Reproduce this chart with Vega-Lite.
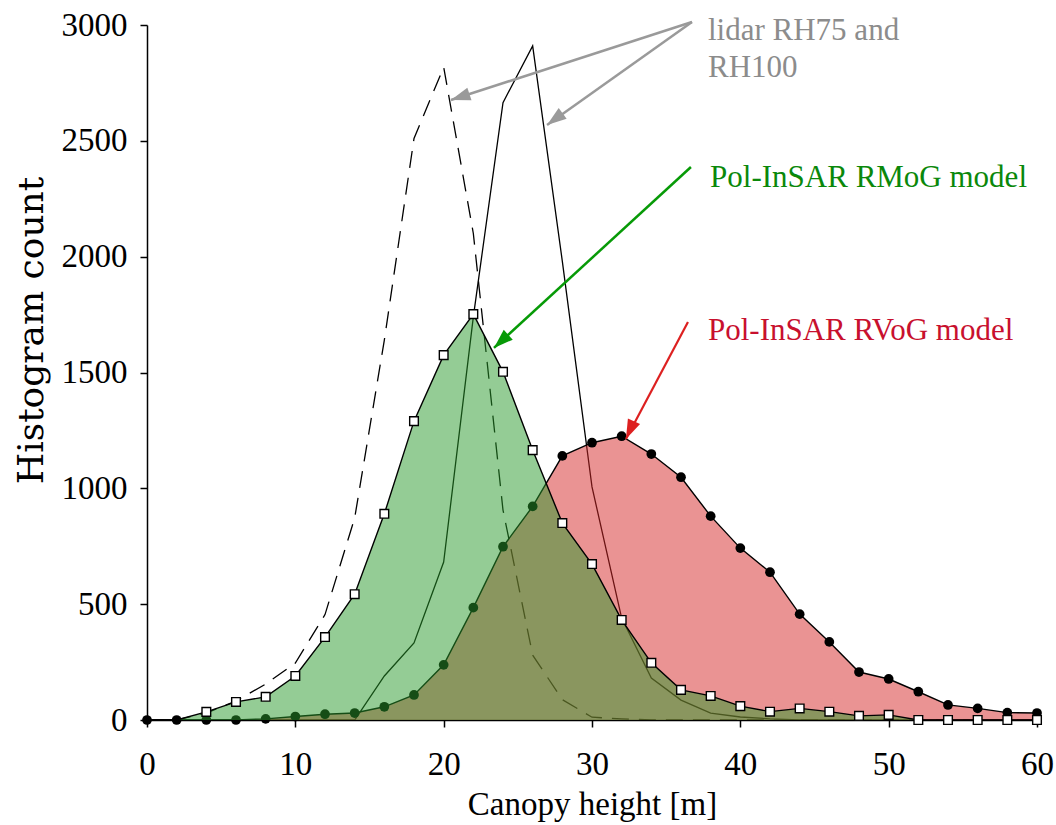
{
  "$schema": "https://vega.github.io/schema/vega-lite/v6.json",
  "width": 890,
  "height": 695,
  "autosize": {"type": "none"},
  "padding": {"left": 147, "top": 25, "right": 19, "bottom": 105},
  "background": "white",
  "config": {
    "view": {"stroke": null},
    "axis": {
      "grid": false,
      "domainColor": "black",
      "domainWidth": 1.5,
      "tickColor": "black",
      "tickWidth": 1.5,
      "tickSize": 7,
      "labelFlush": false,
      "labelFont": "Liberation Serif",
      "labelFontSize": 33,
      "labelColor": "black",
      "titleFont": "Liberation Serif",
      "titleFontSize": 33,
      "titleFontWeight": "normal",
      "titleColor": "black"
    }
  },
  "datasets": {
    "hist": [
      {"h": 0, "rmog": 0, "rvog": 0, "rh75": 0, "rh100": 0},
      {"h": 2, "rmog": 0, "rvog": 0, "rh75": 0, "rh100": 0},
      {"h": 4, "rmog": 35, "rvog": 0, "rh75": 30, "rh100": 0},
      {"h": 6, "rmog": 78, "rvog": 0, "rh75": 82, "rh100": 0},
      {"h": 8, "rmog": 100, "rvog": 5, "rh75": 155, "rh100": 0},
      {"h": 10, "rmog": 190, "rvog": 15, "rh75": 246, "rh100": 0},
      {"h": 12, "rmog": 358, "rvog": 25, "rh75": 455, "rh100": 0},
      {"h": 14, "rmog": 543, "rvog": 30, "rh75": 872, "rh100": 0},
      {"h": 16, "rmog": 890, "rvog": 57, "rh75": 1640, "rh100": 190},
      {"h": 18, "rmog": 1290, "rvog": 108, "rh75": 2510, "rh100": 333},
      {"h": 20, "rmog": 1575, "rvog": 238, "rh75": 2818, "rh100": 682},
      {"h": 22, "rmog": 1752, "rvog": 485, "rh75": 2100, "rh100": 1740},
      {"h": 24, "rmog": 1503, "rvog": 748, "rh75": 906, "rh100": 2665},
      {"h": 26, "rmog": 1165, "rvog": 922, "rh75": 280, "rh100": 2910},
      {"h": 28, "rmog": 850, "rvog": 1140, "rh75": 88, "rh100": 1980},
      {"h": 30, "rmog": 673, "rvog": 1197, "rh75": 12, "rh100": 1006},
      {"h": 32, "rmog": 432, "rvog": 1225, "rh75": 5, "rh100": 440},
      {"h": 34, "rmog": 247, "rvog": 1148, "rh75": 0, "rh100": 181},
      {"h": 36, "rmog": 130, "rvog": 1048, "rh75": 0, "rh100": 86},
      {"h": 38, "rmog": 104, "rvog": 880, "rh75": 0, "rh100": 30},
      {"h": 40, "rmog": 60, "rvog": 742, "rh75": 0, "rh100": 13},
      {"h": 42, "rmog": 36, "rvog": 638, "rh75": 0, "rh100": 5},
      {"h": 44, "rmog": 50, "rvog": 457, "rh75": 0, "rh100": 0},
      {"h": 46, "rmog": 36, "rvog": 337, "rh75": 0, "rh100": 0},
      {"h": 48, "rmog": 18, "rvog": 207, "rh75": 0, "rh100": 0},
      {"h": 50, "rmog": 22, "rvog": 177, "rh75": 0, "rh100": 0},
      {"h": 52, "rmog": 0, "rvog": 122, "rh75": 0, "rh100": 0},
      {"h": 54, "rmog": 0, "rvog": 65, "rh75": 0, "rh100": 0},
      {"h": 56, "rmog": 0, "rvog": 50, "rh75": 0, "rh100": 0},
      {"h": 58, "rmog": 0, "rvog": 32, "rh75": 0, "rh100": 0},
      {"h": 60, "rmog": 0, "rvog": 30, "rh75": 0, "rh100": 0}
    ],
    "arrows": [
      {"x": 36.74, "y": 3013, "x2": 20.49, "y2": 2676, "color": "#9a9a9a", "w": 2.5},
      {"x": 36.74, "y": 3013, "x2": 26.97, "y2": 2568, "color": "#9a9a9a", "w": 2.5},
      {"x": 36.67, "y": 2387, "x2": 23.39, "y2": 1606, "color": "#079a07", "w": 2.5},
      {"x": 36.47, "y": 1718, "x2": 32.29, "y2": 1213, "color": "#dd2020", "w": 2.2}
    ],
    "notes": [
      {"x": 37.82, "y": 2935, "label": "lidar RH75 and", "color": "#8c8c8c"},
      {"x": 37.82, "y": 2775, "label": "RH100", "color": "#8c8c8c"},
      {"x": 37.96, "y": 2301, "label": "Pol-InSAR RMoG model", "color": "#0a880a"},
      {"x": 37.82, "y": 1640, "label": "Pol-InSAR RVoG model", "color": "#c8102e"}
    ]
  },
  "layer": [
    {
      "data": {"name": "hist"},
      "mark": {"type": "line", "color": "black", "strokeWidth": 1.3, "strokeDash": [17, 10]},
      "encoding": {
        "x": {"field": "h", "type": "quantitative", "scale": {"domain": [0, 60], "nice": false},
              "axis": {"values": [0, 10, 20, 30, 40, 50, 60], "title": "Canopy height [m]", "labelPadding": 21, "titleY": 94, "titleBaseline": "alphabetic"}},
        "y": {"field": "rh75", "type": "quantitative", "scale": {"domain": [0, 3000], "nice": false},
              "axis": {"values": [0, 500, 1000, 1500, 2000, 2500, 3000], "format": "d", "title": "Histogram count", "titleFont": "DejaVu Serif", "titleFontSize": 36, "labelPadding": 13, "titleX": -116, "titleY": 305, "titleAngle": 270, "titleAlign": "center", "titleBaseline": "middle"}}
      }
    },
    {
      "data": {"name": "hist"},
      "mark": {"type": "line", "color": "black", "strokeWidth": 1.3},
      "encoding": {
        "x": {"field": "h", "type": "quantitative"},
        "y": {"field": "rh100", "type": "quantitative"}
      }
    },
    {
      "data": {"name": "hist"},
      "mark": {"type": "area", "color": "#d62728", "fillOpacity": 0.5},
      "encoding": {
        "x": {"field": "h", "type": "quantitative"},
        "y": {"field": "rvog", "type": "quantitative"}
      }
    },
    {
      "data": {"name": "hist"},
      "mark": {"type": "line", "color": "black", "strokeWidth": 1.4},
      "encoding": {
        "x": {"field": "h", "type": "quantitative"},
        "y": {"field": "rvog", "type": "quantitative"}
      }
    },
    {
      "data": {"name": "hist"},
      "mark": {"type": "point", "shape": "circle", "filled": true, "color": "black", "size": 95, "opacity": 1},
      "encoding": {
        "x": {"field": "h", "type": "quantitative"},
        "y": {"field": "rvog", "type": "quantitative"}
      }
    },
    {
      "data": {"name": "hist"},
      "mark": {"type": "area", "color": "#29992b", "fillOpacity": 0.5},
      "encoding": {
        "x": {"field": "h", "type": "quantitative"},
        "y": {"field": "rmog", "type": "quantitative"}
      }
    },
    {
      "data": {"name": "hist"},
      "mark": {"type": "line", "color": "black", "strokeWidth": 1.4},
      "encoding": {
        "x": {"field": "h", "type": "quantitative"},
        "y": {"field": "rmog", "type": "quantitative"}
      }
    },
    {
      "data": {"name": "hist"},
      "transform": [{"filter": "datum.h >= 4"}],
      "mark": {"type": "point", "shape": "square", "filled": false, "fill": "white", "stroke": "black", "strokeWidth": 1.4, "size": 75, "opacity": 1, "fillOpacity": 1},
      "encoding": {
        "x": {"field": "h", "type": "quantitative"},
        "y": {"field": "rmog", "type": "quantitative"}
      }
    },
    {
      "data": {"name": "arrows"},
      "mark": {"type": "rule", "clip": false},
      "encoding": {
        "x": {"field": "x", "type": "quantitative"},
        "y": {"field": "y", "type": "quantitative"},
        "x2": {"field": "x2"},
        "y2": {"field": "y2"},
        "color": {"field": "color", "type": "nominal", "scale": null},
        "strokeWidth": {"field": "w", "type": "quantitative", "scale": null}
      }
    },
    {
      "data": {"values": [{"x": 20.49, "y": 2676}]},
      "mark": {"type": "point", "shape": "M0,0L0.65,1.9L-0.65,1.9Z", "filled": true, "color": "#9a9a9a", "size": 420, "angle": 251.8, "opacity": 1},
      "encoding": {"x": {"field": "x", "type": "quantitative"}, "y": {"field": "y", "type": "quantitative"}}
    },
    {
      "data": {"values": [{"x": 26.97, "y": 2568}]},
      "mark": {"type": "point", "shape": "M0,0L0.65,1.9L-0.65,1.9Z", "filled": true, "color": "#9a9a9a", "size": 420, "angle": 233.3, "opacity": 1},
      "encoding": {"x": {"field": "x", "type": "quantitative"}, "y": {"field": "y", "type": "quantitative"}}
    },
    {
      "data": {"values": [{"x": 23.39, "y": 1606}]},
      "mark": {"type": "point", "shape": "M0,0L0.65,1.9L-0.65,1.9Z", "filled": true, "color": "#079a07", "size": 420, "angle": 227.3, "opacity": 1},
      "encoding": {"x": {"field": "x", "type": "quantitative"}, "y": {"field": "y", "type": "quantitative"}}
    },
    {
      "data": {"values": [{"x": 32.29, "y": 1213}]},
      "mark": {"type": "point", "shape": "M0,0L0.65,1.9L-0.65,1.9Z", "filled": true, "color": "#dd2020", "size": 420, "angle": 204.3, "opacity": 1},
      "encoding": {"x": {"field": "x", "type": "quantitative"}, "y": {"field": "y", "type": "quantitative"}}
    },
    {
      "data": {"name": "notes"},
      "mark": {"type": "text", "align": "left", "baseline": "alphabetic", "font": "Liberation Serif", "fontSize": 31},
      "encoding": {
        "x": {"field": "x", "type": "quantitative"},
        "y": {"field": "y", "type": "quantitative"},
        "text": {"field": "label"},
        "color": {"field": "color", "type": "nominal", "scale": null}
      }
    }
  ]
}
